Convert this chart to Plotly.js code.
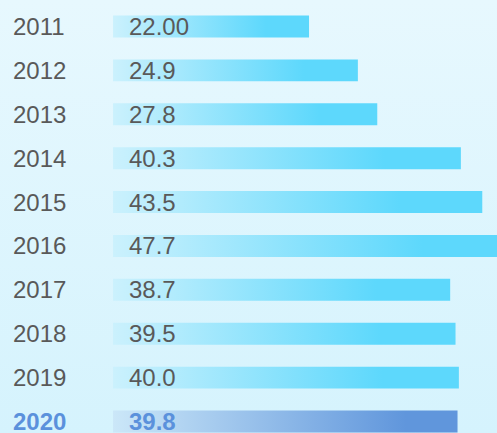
<!DOCTYPE html>
<html>
<head>
<meta charset="utf-8">
<script src="https://cdn.plot.ly/plotly-3.0.1.min.js"></script>
<style>
  html, body { margin: 0; padding: 0; background: #e0f6fd; }
  #chart { width: 497px; height: 433px; }
</style>
</head>
<body>
<div id="chart"></div>
<script>
// ---- data ----
const years = ['2011', '2012', '2013', '2014', '2015', '2016', '2017', '2018', '2019', '2020'];
const barValues = [17.6, 24.9, 27.8, 40.3, 43.5, 47.7, 38.7, 39.5, 40.0, 39.8];
const valueLabels = ['22.00', '24.9', '27.8', '40.3', '43.5', '47.7', '38.7', '39.5', '40.0', '39.8'];
const highlightYear = '2020';

// ---- styling / geometry ----
const axisMin = -28.6, axisMax = 45.7;   // x axis range
const barBase = -11.7;                    // where bars start
const halfH = 0.25;                       // half bar thickness (category units)
const yRange = [9.262, -0.604];

const normalScale = [[0, '#cbf1fd'], [0.78, '#5dd8fc'], [1, '#5dd8fc']];
const highlightScale = [[0, '#cbe7f8'], [0.85, '#6096dc'], [1, '#6096dc']];

const traces = [];
// background vertical gradient
traces.push({
  type: 'scatter', mode: 'lines',
  x: [axisMin, axisMax, axisMax, axisMin, axisMin],
  y: [yRange[1], yRange[1], yRange[0], yRange[0], yRange[1]],
  fill: 'toself', line: {width: 0}, hoverinfo: 'skip', showlegend: false,
  fillgradient: {type: 'vertical', start: yRange[1], stop: yRange[0],
    colorscale: [[0, '#e7f8fe'], [1, '#d5f3fd']]}
});

years.forEach((yr, i) => {
  const v = barValues[i];
  const hl = yr === highlightYear;
  traces.push({
    type: 'scatter', mode: 'lines',
    x: [barBase, v, v, barBase, barBase],
    y: [i - halfH, i - halfH, i + halfH, i + halfH, i - halfH],
    fill: 'toself',
    line: {width: 0},
    hoverinfo: 'skip', showlegend: false,
    fillgradient: {type: 'horizontal', start: barBase, stop: v,
      colorscale: hl ? highlightScale : normalScale}
  });
});

const annotations = [];
years.forEach((yr, i) => {
  const hl = yr === highlightYear;
  const font = {family: 'Liberation Sans, Arial, sans-serif', size: 24,
    color: hl ? '#5b91dc' : '#595959'};
  annotations.push({
    x: 11 / 497, xref: 'paper', y: i, yref: 'y',
    text: hl ? '<b>' + yr + '</b>' : yr, showarrow: false,
    xanchor: 'left', yanchor: 'middle', font: font
  });
  annotations.push({
    x: barBase, xref: 'x', xshift: 14, y: i, yref: 'y',
    text: hl ? '<b>' + valueLabels[i] + '</b>' : valueLabels[i], showarrow: false,
    xanchor: 'left', yanchor: 'middle', font: font
  });
});

const layout = {
  width: 497, height: 433,
  margin: {l: 0, r: 0, t: 0, b: 0, pad: 0},
  paper_bgcolor: '#e0f6fd', plot_bgcolor: 'rgba(0,0,0,0)',
  xaxis: {range: [axisMin, axisMax], visible: false, fixedrange: true},
  yaxis: {range: yRange, visible: false, fixedrange: true},
  showlegend: false,
  annotations: annotations
};

Plotly.newPlot('chart', traces, layout, {staticPlot: true, displayModeBar: false});
</script>
</body>
</html>
